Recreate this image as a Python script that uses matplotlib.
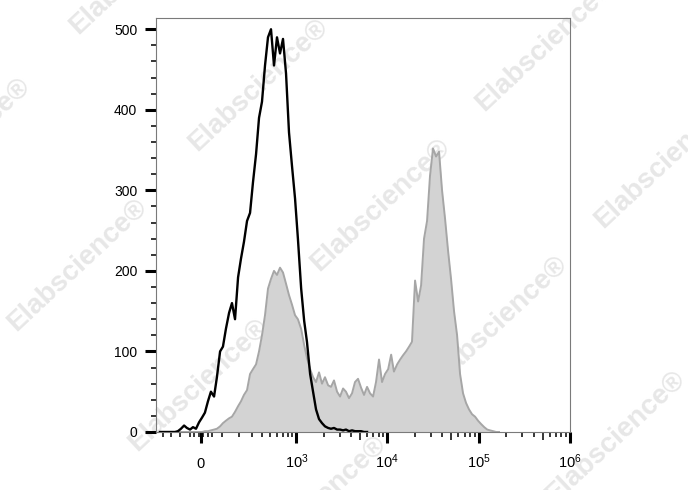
import numpy as np
import matplotlib
matplotlib.use("Agg")
import matplotlib.pyplot as plt

# ============================================================
# Datos: intensidad de fluorescencia (centro del canal) y cuentas
# ============================================================

x_vals = [-224, -202, -182, -163, -145, -128, -112, -96, -80, -66,
          -51, -37, -23, -9, 5, 18, 32, 46, 61, 75,
          91, 106, 122, 140, 157, 176, 196, 216, 238, 262,
          287, 313, 342, 372, 404, 439, 476, 516, 559, 605,
          655, 708, 766, 827, 894, 966, 1040, 1130, 1220, 1310,
          1420, 1530, 1650, 1780, 1920, 2070, 2240, 2410, 2600, 2810,
          3030, 3270, 3520, 3800, 4100, 4420, 4770, 5150, 5550, 5990,
          6460, 6970, 7510, 8100, 8740, 9430, 10200, 11000, 11800, 12800,
          13800, 14800, 16000, 17300, 18600, 20100, 21700, 23400, 25200, 27200,
          29300, 31600, 34100, 36800, 39700, 42800, 46200, 49800, 53700, 58000,
          62500, 67400, 72700, 78400, 84600, 91300, 98400, 106000, 115000, 124000,
          133000, 144000, 155000, 167000]

# control (linea negra)
black_counts = [0, 0, 0, 0, 0, 0, 1, 4, 8, 5,
                3, 6, 4, 12, 18, 24, 38, 50, 44, 68,
                100, 106, 128, 148, 160, 140, 192, 215, 236, 262,
                272, 310, 345, 390, 410, 455, 490, 500, 455, 490,
                470, 488, 445, 372, 330, 290, 240, 178, 138, 112,
                72, 50, 28, 16, 11, 7, 5, 4, 5, 3,
                3, 2, 3, 1, 2, 1, 1, 1, 0, 0]

# muestra teñida (relleno gris)
gray_counts = [0, 0, 0, 0, 0, 0, 0, 0, 0, 0,
               0, 0, 0, 0, 0, 1, 1, 2, 3, 4,
               7, 11, 14, 17, 19, 25, 32, 38, 46, 52,
               72, 78, 84, 100, 120, 145, 178, 190, 200, 195,
               204, 198, 184, 170, 158, 145, 140, 128, 108, 92,
               78, 68, 62, 74, 60, 68, 58, 56, 64, 50,
               44, 54, 50, 42, 48, 62, 66, 55, 46, 56,
               48, 44, 62, 90, 62, 72, 78, 96, 75, 84,
               90, 95, 100, 106, 112, 188, 162, 182, 240, 262,
               318, 352, 342, 348, 300, 265, 225, 190, 150, 120,
               72, 48, 36, 28, 22, 19, 14, 10, 6, 3,
               2, 1, 0, 0]

x_major = [0, 1e3, 1e4, 1e5, 1e6]
x_major_labels = ["0", "$10^3$", "$10^4$", "$10^5$", "$10^6$"]
x_minor = [-200, -150, -100, -50, -30, -10, 10, 30, 50,
           100, 200, 300, 400, 500, 600, 700, 800, 900,
           2e3, 3e3, 4e3, 5e3, 6e3, 7e3, 8e3, 9e3,
           2e4, 3e4, 4e4, 5e4, 6e4, 7e4, 8e4, 9e4,
           2e5, 3e5, 4e5, 5e5, 6e5, 7e5, 8e5, 9e5]
x_medium = [5e3, 5e4, 5e5]

plt.rcParams["font.family"] = "Liberation Sans"
plt.rcParams["mathtext.fontset"] = "custom"
plt.rcParams["mathtext.rm"] = "Liberation Sans"
plt.rcParams["mathtext.default"] = "rm"


# Escala biexponencial aproximada (arcsinh)
def fwd(v):
    return np.arcsinh(np.asarray(v, dtype=float) / 182.0) / np.log(10)


def inv(u):
    return 182.0 * np.sinh(np.asarray(u, dtype=float) * np.log(10))


fig = plt.figure(figsize=(6.88, 4.90), dpi=100)

# marca de agua
marcas = [(139, -32), (258, 85), (380, 205), (497, 322), (615, 437),
          (545, 45), (664, 162), (-40, 144), (77, 265), (198, 385), (316, 502)]
for cx, cy in marcas:
    fig.text(cx / 688, 1 - cy / 490, "Elabscience®", rotation=43,
             rotation_mode="anchor", ha="center", va="center",
             color="#e7e7e7", fontsize=20, fontweight="bold", zorder=-5)

ax = fig.add_axes([0.2267, 0.1184, 0.6018, 0.8449])
ax.patch.set_visible(False)
ax.set_xscale("function", functions=(fwd, inv))

x = np.array(x_vals, dtype=float)
ax.fill_between(x, gray_counts, color="#d3d3d3", lw=0, zorder=2)
ax.plot(x, gray_counts, color="#a6a6a6", lw=1.4, zorder=3)
ax.plot(x[:len(black_counts)], black_counts, color="black", lw=1.7, zorder=4)

ax.set_xlim(-254, 1e6)
ax.set_ylim(0, 514)

ax.set_xticks(x_major, labels=x_major_labels)
ax.set_xticks(x_minor, minor=True)
ax.set_yticks(np.arange(0, 501, 100))
ax.set_yticks(np.arange(0, 501, 20), minor=True)
ax.yaxis.set_minor_formatter(plt.NullFormatter())

ax.tick_params(axis="both", which="major", length=8, width=2.2,
               color="black", direction="out")
ax.tick_params(axis="both", which="minor", length=3.6, width=1.1,
               color="black", direction="out")
ax.tick_params(axis="x", which="major", pad=18, labelsize=10.5)
ax.tick_params(axis="y", which="major", pad=5.5, labelsize=10)

for lbl in ax.get_xticklabels():
    lbl.set_va("baseline")

for tick, loc in zip(ax.xaxis.get_minor_ticks(len(x_minor)), x_minor):
    if loc in x_medium:
        tick.tick1line.set_markersize(6)

for s in ax.spines.values():
    s.set_color("#7a7a7a")
    s.set_linewidth(0.8)

fig.savefig("out.png", dpi=100)
